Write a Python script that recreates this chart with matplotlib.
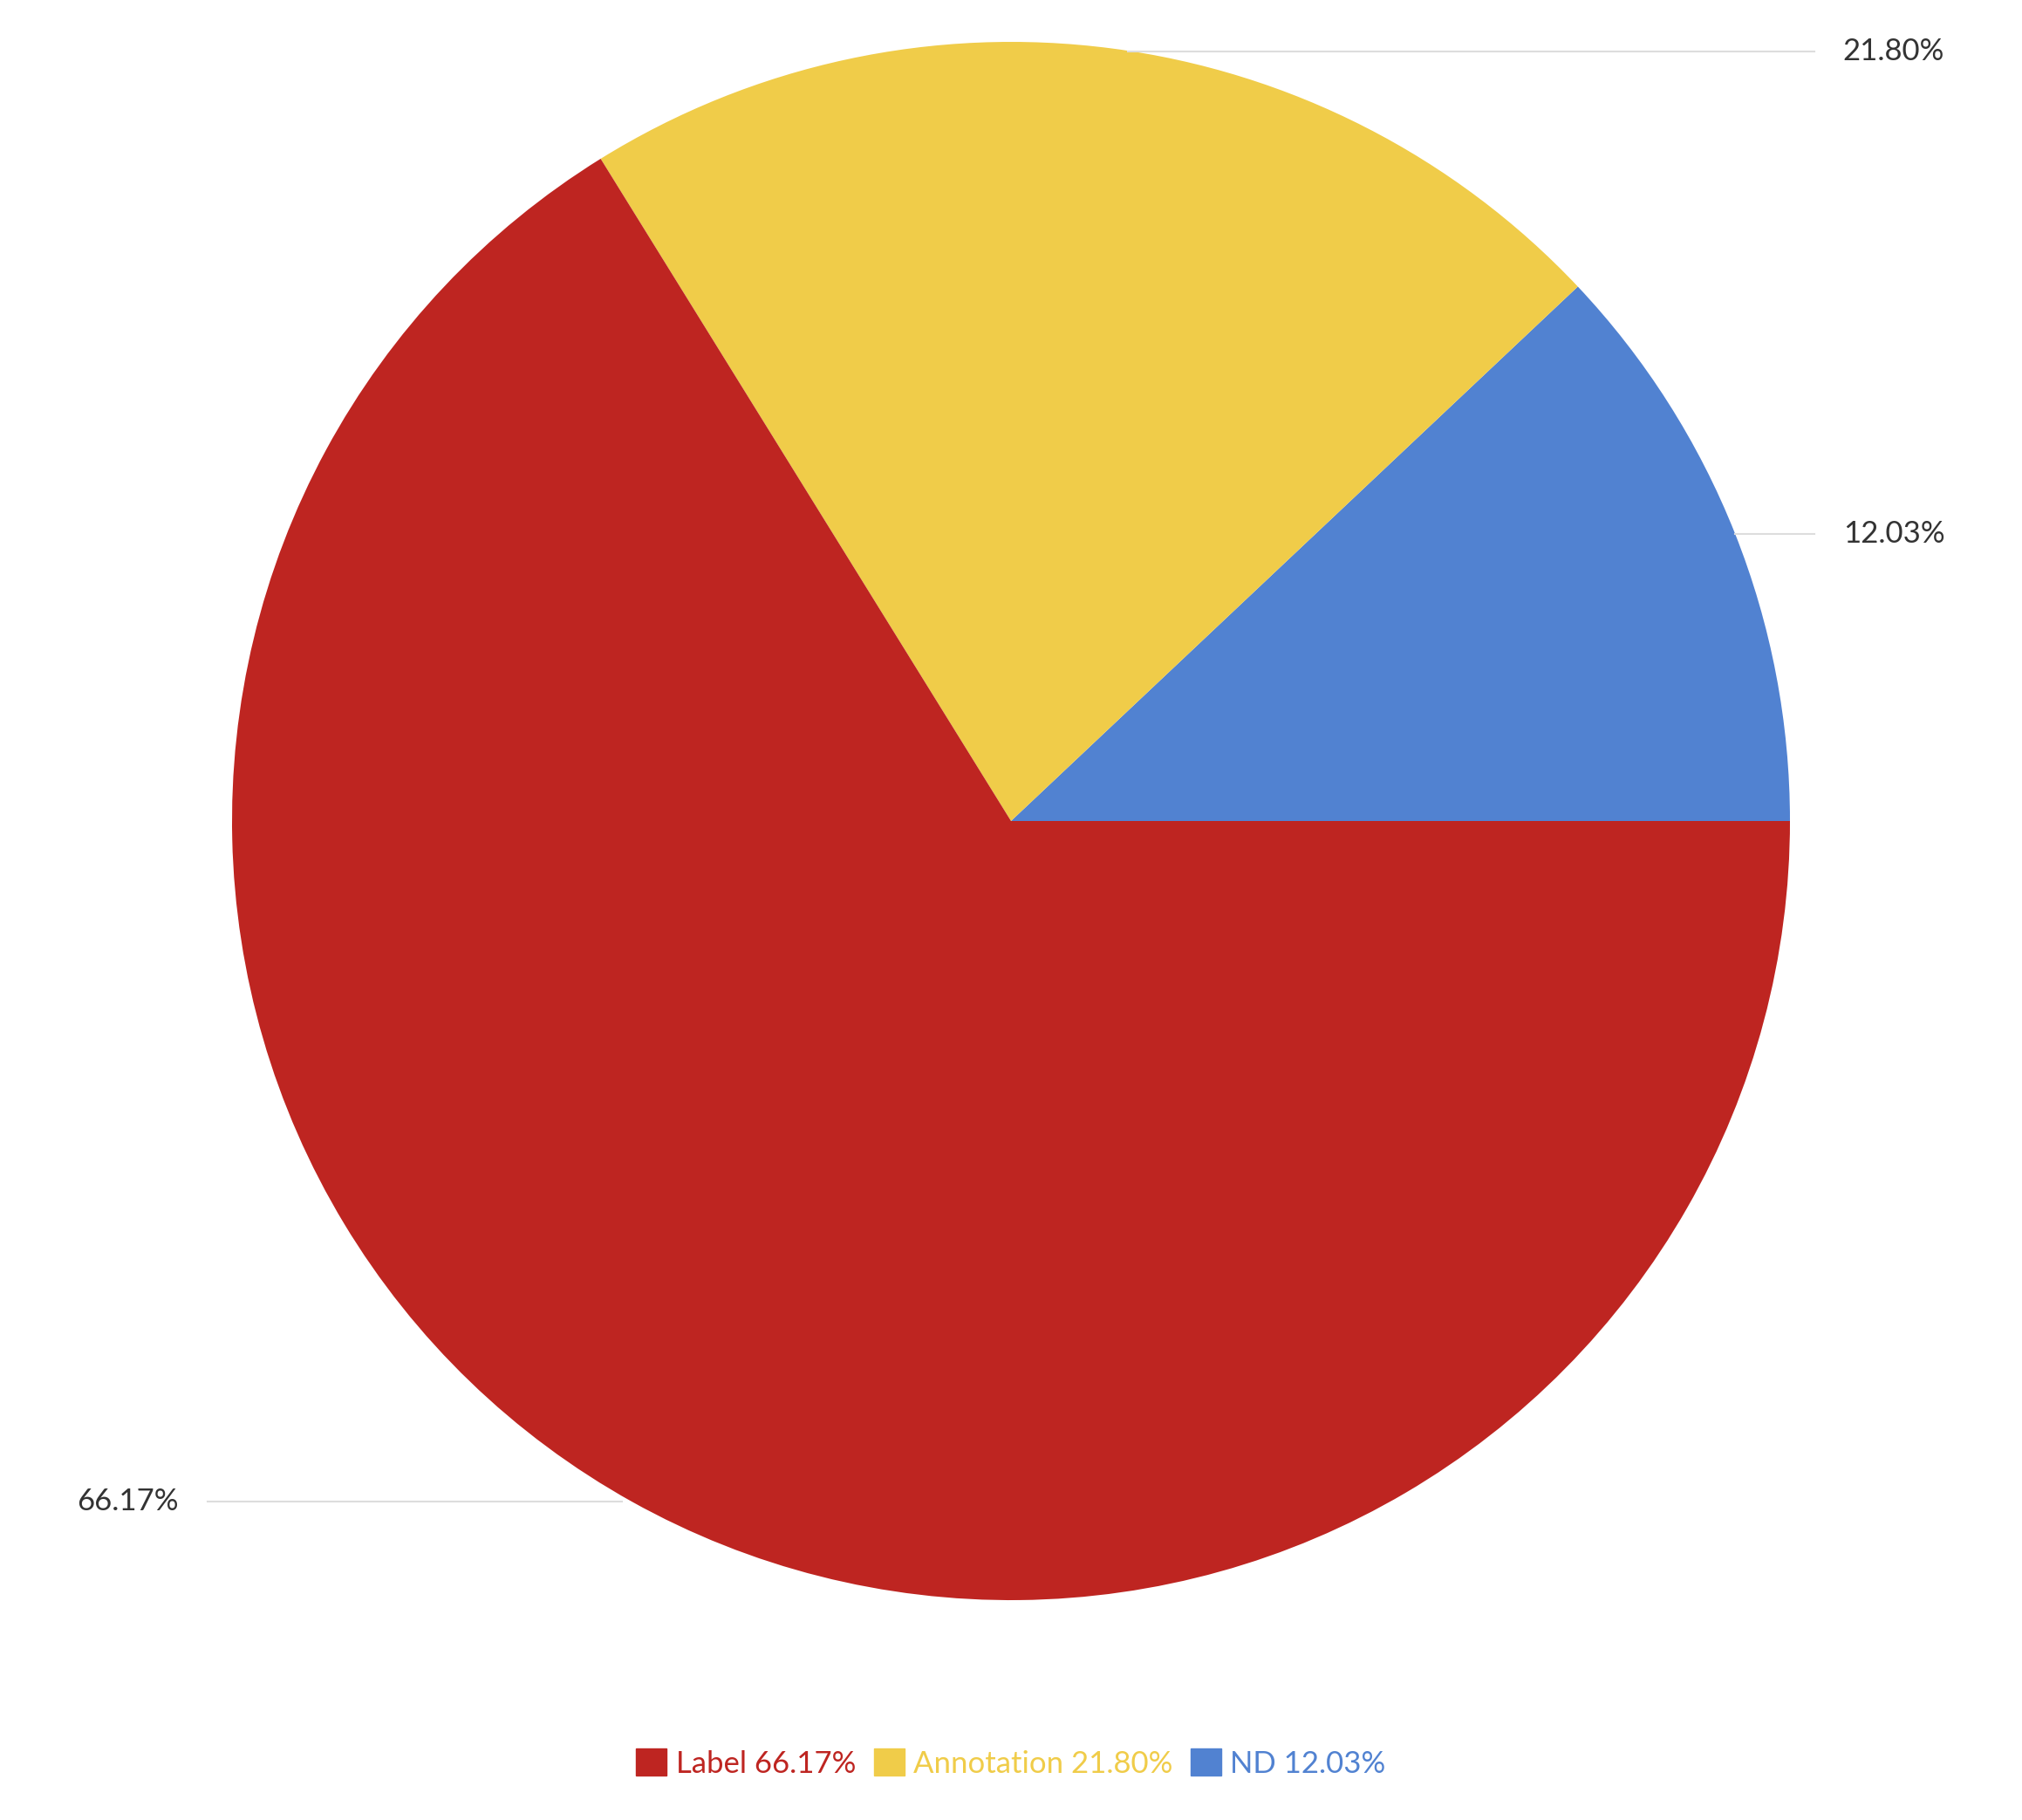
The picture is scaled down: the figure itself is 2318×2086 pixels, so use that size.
import matplotlib
matplotlib.use('Agg')
import matplotlib.pyplot as plt
from matplotlib.patches import Patch

plt.rcParams['font.family'] = ['Lato', 'DejaVu Sans']

# data (counterclockwise from 3 o'clock)
names = ['ND', 'Annotation', 'Label']
values = [12.03, 21.80, 66.17]
colors = ['#5182D1', '#F0CC49', '#BE2521']
legend_order = [2, 1, 0]

fig = plt.figure(figsize=(23.18, 20.86), dpi=100)
W, H = 2318, 2086
cx, cy, r = 1159, 941, 893
ax = fig.add_axes([(cx - r) / W, (H - cy - r) / H, 2 * r / W, 2 * r / H])
ax.pie(values, colors=colors, startangle=0, counterclock=True, radius=1,
       wedgeprops=dict(linewidth=0))
ax.set_xlim(-1, 1)
ax.set_ylim(-1, 1)
ax.set_aspect('equal')
ax.axis('off')

# external labels with leader lines
line_c = '#dddddd'
lab = dict(fontsize=25, color='#333333', va='center', clip_on=False)
ax.plot([0.15, 1.031], [0.988, 0.988], color=line_c, lw=1.5, clip_on=False)
ax.text(1.068, 0.988, f'{values[1]:.2f}%', ha='left', **lab)
ax.plot([0.93, 1.031], [0.368, 0.368], color=line_c, lw=1.5, clip_on=False)
ax.text(1.068, 0.368, f'{values[0]:.2f}%', ha='left', **lab)
ax.plot([-1.031, -0.5], [-0.873, -0.873], color=line_c, lw=1.5, clip_on=False)
ax.text(-1.069, -0.873, f'{values[2]:.2f}%', ha='right', **lab)

handles = [Patch(facecolor=colors[i], edgecolor=colors[i]) for i in legend_order]
labels = [f'{names[i]} {values[i]:.2f}%' for i in legend_order]
fig.legend(handles, labels, loc='center', bbox_to_anchor=(0.5, 1 - 2021 / H),
           ncol=3, frameon=False, fontsize=25, handlelength=1.0, handleheight=1.0,
           handletextpad=0.3, columnspacing=0.6,
           labelcolor=[colors[i] for i in legend_order])

fig.savefig('out.png', dpi=100, facecolor='white')
